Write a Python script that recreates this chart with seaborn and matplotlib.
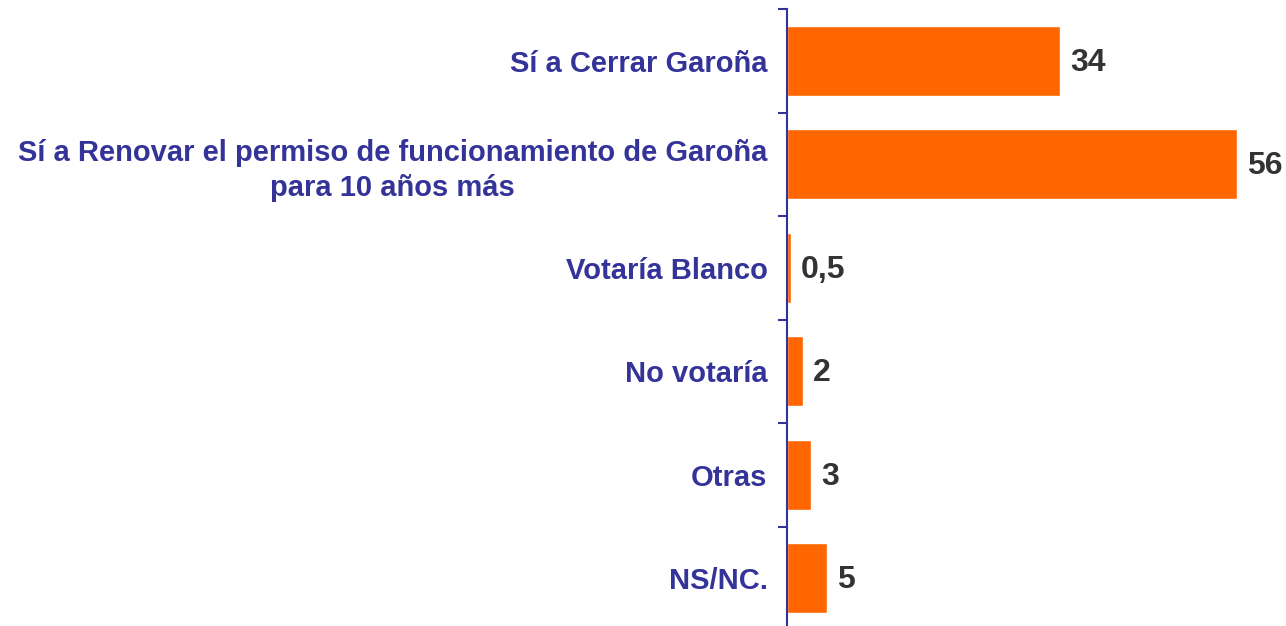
import numpy as np
import pandas as pd
import seaborn as sns
import matplotlib.pyplot as plt
from matplotlib.ticker import FixedLocator

categorias = ['Sí a Cerrar Garoña',
              'Sí a Renovar el permiso de funcionamiento de Garoña\npara 10 años más',
              'Votaría Blanco', 'No votaría', 'Otras', 'NS/NC.']
valores = [34, 56, 0.5, 2, 3, 5]
etiquetas = ['34', '56', '0,5', '2', '3', '5']

NARANJA = '#FF6600'
AZUL = '#333399'

sns.set_theme(style='white')
plt.rcParams['font.family'] = ['Liberation Sans', 'DejaVu Sans']

df = pd.DataFrame({'cat': categorias, 'val': valores})

fig = plt.figure(figsize=(12.86, 6.26), dpi=100)
ax = fig.add_axes([787/1286, 1 - 630/626, 1 - 787/1286, 621/626])
sns.barplot(data=df, y='cat', x='val', color=NARANJA, saturation=1,
            width=0.68, ax=ax, orient='h')

ax.set_xlim(0, 62.1)
ax.set_ylim(len(categorias) - 0.5, -0.5)
ax.set_xlabel(''); ax.set_ylabel('')
ax.set_xticks([])

for s in ['top', 'right', 'bottom']:
    ax.spines[s].set_visible(False)
ax.spines['left'].set_color(AZUL)
ax.spines['left'].set_linewidth(1.5)

ax.tick_params(axis='y', which='major', length=0, pad=14)
ax.yaxis.set_minor_locator(FixedLocator(np.arange(-0.5, len(categorias), 1)))
ax.tick_params(axis='y', which='minor', length=6.5, width=1.5, color=AZUL, left=True)
for t in ax.get_yticklabels():
    t.set_color(AZUL)
    t.set_fontsize(21)
    t.set_fontweight('bold')
    t.set_multialignment('center')
    t.set_linespacing(1.3)

for i, (v, lab) in enumerate(zip(valores, etiquetas)):
    ax.annotate(lab, (v, i), xytext=(10, -2), textcoords='offset pixels',
                ha='left', va='center', fontsize=23, fontweight='bold',
                color='#333333')

fig.savefig('out.png', dpi=100)
